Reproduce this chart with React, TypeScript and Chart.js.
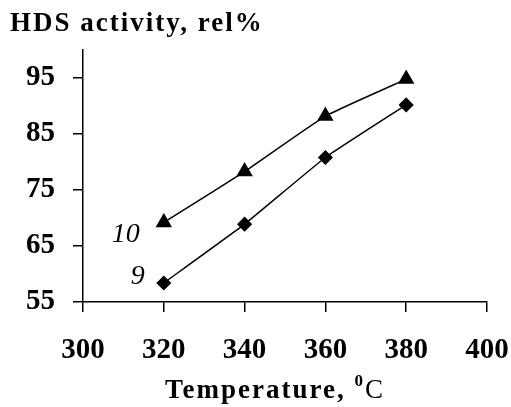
import React, { useEffect, useRef } from "react";
import { Chart, registerables } from "chart.js";

Chart.register(...registerables);

const temperatures = [320, 340, 360, 380];
const series10 = [69.2, 78.3, 88.2, 94.8];
const series9 = [58.4, 68.9, 80.8, 90.2];
const yTicks = [55, 65, 75, 85, 95];
const xTicks = [300, 320, 340, 360, 380, 400];
const titleText = "HDS activity, rel%";
const xTitleMain = "Temperature, ";
const label10 = "10";
const label9 = "9";

const SERIF = "'Liberation Serif', 'Times New Roman', serif";

const textPlugin = {
  id: "textPlugin",
  afterDraw(chart: any) {
    const ctx = chart.ctx;
    const xs = chart.scales.x;
    const ys = chart.scales.y;
    ctx.save();
    ctx.fillStyle = "#000";
    ctx.textBaseline = "alphabetic";
    ctx.textAlign = "left";
    // title
    ctx.font = `bold 27px ${SERIF}`;
    (ctx as any).letterSpacing = "2px";
    ctx.fillText(titleText, 10, 31);
    // x title
    ctx.font = `bold 27px ${SERIF}`;
    (ctx as any).letterSpacing = "2px";
    const startX = 165;
    const base = 398;
    ctx.fillText(xTitleMain, startX, base);
    const w = ctx.measureText(xTitleMain).width;
    ctx.font = `bold 17px ${SERIF}`;
    ctx.fillText("0", startX + w, base - 12);
    const w0 = ctx.measureText("0").width;
    ctx.font = `27px ${SERIF}`;
    ctx.fillText("C", startX + w + w0, base);
    (ctx as any).letterSpacing = "0px";
    // series labels
    ctx.font = `italic 28px ${SERIF}`;
    ctx.textAlign = "right";
    const p10x = xs.getPixelForValue(temperatures[0]);
    const p10y = ys.getPixelForValue(series10[0]);
    ctx.fillText(label10, p10x - 24, p10y + 20);
    const p9y = ys.getPixelForValue(series9[0]);
    ctx.fillText(label9, p10x - 19, p9y + 1);
    ctx.restore();
  },
};

export default function App() {
  const ref = useRef<HTMLCanvasElement | null>(null);
  useEffect(() => {
    if (!ref.current) return;
    const chart = new Chart(ref.current, {
      type: "line",
      data: {
        datasets: [
          {
            label: label10,
            data: temperatures.map((t, i) => ({ x: t, y: series10[i] })),
            borderColor: "#000",
            backgroundColor: "#000",
            borderWidth: 1.5,
            pointStyle: "triangle",
            pointRadius: 8,
            pointBackgroundColor: "#000",
            pointBorderColor: "#000",
            tension: 0.12,
          },
          {
            label: label9,
            data: temperatures.map((t, i) => ({ x: t, y: series9[i] })),
            borderColor: "#000",
            backgroundColor: "#000",
            borderWidth: 1.5,
            pointStyle: "rectRot",
            pointRadius: 6.5,
            pointBackgroundColor: "#000",
            pointBorderColor: "#000",
            tension: 0.12,
          },
        ],
      },
      options: {
        animation: false,
        responsive: false,
        maintainAspectRatio: false,
        layout: { padding: { top: 50, right: 24, left: 0, bottom: 0 } },
        plugins: {
          legend: { display: false },
          title: { display: false },
          tooltip: { enabled: false },
        },
        scales: {
          x: {
            type: "linear",
            min: 300,
            max: 400,
            afterBuildTicks: (s: any) => {
              s.ticks = xTicks.map((v) => ({ value: v }));
            },
            afterFit: (s: any) => {
              s.height = 105;
              s.paddingLeft = 0;
              s.paddingRight = 0;
            },
            grid: {
              drawOnChartArea: false,
              color: "#000",
              lineWidth: 1.5,
              tickLength: 10,
            },
            border: { color: "#000", width: 1.5 },
            ticks: {
              color: "#000",
              padding: 21,
              maxRotation: 0,
              font: { family: SERIF, size: 29, weight: "bold" },
            },
          },
          y: {
            type: "linear",
            min: 55,
            max: 100,
            afterBuildTicks: (s: any) => {
              s.ticks = yTicks.map((v) => ({ value: v }));
            },
            afterFit: (s: any) => {
              s.width = 83;
              s.paddingTop = 0;
              s.paddingBottom = 0;
            },
            grid: {
              drawOnChartArea: false,
              color: "#000",
              lineWidth: 1.5,
              tickLength: 10,
            },
            border: { color: "#000", width: 1.5 },
            ticks: {
              color: "#000",
              padding: 18,
              font: { family: SERIF, size: 29, weight: "bold" },
            },
          },
        },
      },
      plugins: [textPlugin],
    } as any);
    return () => chart.destroy();
  }, []);
  return (
    <div style={{ position: "fixed", left: 0, top: 0, width: 511, height: 407, background: "#fff" }}>
      <canvas ref={ref} width={511} height={407} style={{ display: "block" }} />
    </div>
  );
}
